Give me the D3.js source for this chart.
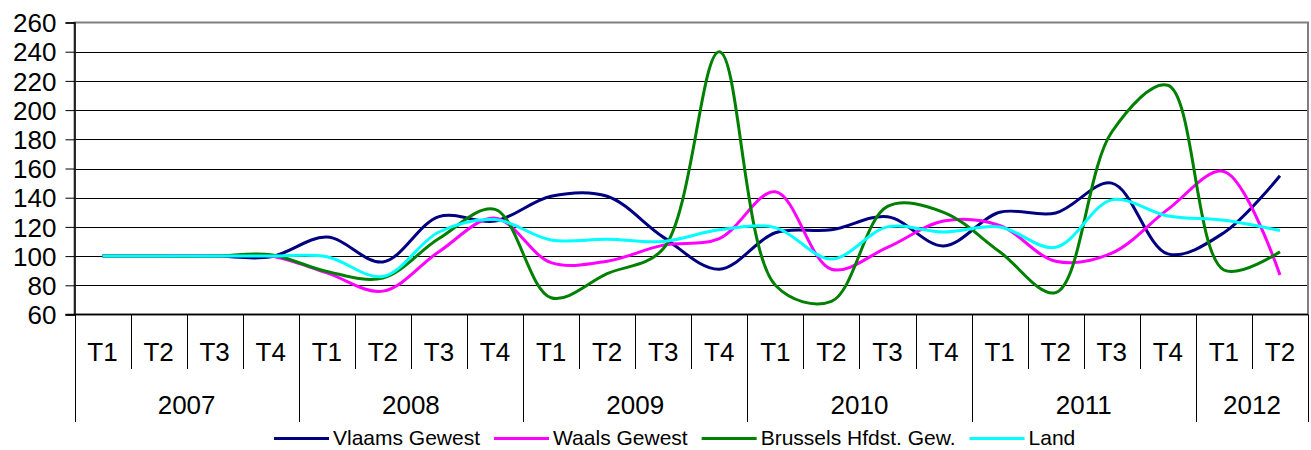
<!DOCTYPE html>
<html>
<head>
<meta charset="utf-8">
<script src="https://cdn.jsdelivr.net/npm/d3@7"></script>
<style>
	body { margin: 0; background: #fff; }
	svg text { font-family: "Liberation Sans", Arial, sans-serif; fill: #000; }
</style>
</head>
<body>
<svg id="chart" width="1311" height="450"></svg>
<script>
const years = ["2007", "2008", "2009", "2010", "2011", "2012"];
const quarters = ["T1", "T2", "T3", "T4"];
const quartersPerYear = [4, 4, 4, 4, 4, 2];

const yTicks = [60, 80, 100, 120, 140, 160, 180, 200, 220, 240, 260];

const seriesNames = ["Vlaams Gewest", "Waals Gewest", "Brussels Hfdst. Gew.", "Land"];
const seriesColors = ["#000080", "#ff00ff", "#008000", "#00ffff"];

// index values per quarter, 2007 T1 .. 2012 T2
const vlaams   = [100, 100, 100, 99.5, 113, 96, 127, 124, 141, 141, 113, 91, 116, 118, 127, 107, 130, 129.5, 150, 101.5, 116, 155];
const waals    = [100, 100, 100, 100, 88.5, 76, 103, 126, 95.5, 96.5, 107.5, 112, 144, 91, 106, 124, 121, 96.5, 102, 132, 158, 87];
const brussels = [100, 100, 100, 101, 89.5, 85, 112, 132, 71.5, 88, 105, 240, 80, 69, 134, 130, 103, 75, 185, 217, 90.5, 103];
const land     = [100, 100, 100, 100, 99.6, 86, 116.5, 125, 111, 111.5, 110, 118, 119.5, 98, 120, 116.5, 120, 106, 138.5, 127.5, 124.5, 117.5];

const seriesValues = [vlaams, waals, brussels, land];

// flat list of categories
const categories = [];
years.forEach((y, yi) => {
	for (let q = 0; q < quartersPerYear[yi]; q++) categories.push({ year: y, quarter: quarters[q] });
});

const svg = d3.select("#chart");

const plotLeft = 74.5, plotRight = 1308, plotTop = 22.5, plotBottom = 314.5;

const x = d3.scaleBand()
	.domain(d3.range(categories.length))
	.range([plotLeft, plotRight])
	.padding(0);

const y = d3.scaleLinear()
	.domain([60, 260])
	.range([plotBottom, plotTop]);

// gridlines
svg.append("g")
	.attr("class", "grid")
	.selectAll("line")
	.data(yTicks.filter(t => t > 60 && t < 260))
	.enter()
	.append("line")
	.attr("x1", plotLeft)
	.attr("x2", plotRight)
	.attr("y1", d => Math.round(y(d)) + 0.5)
	.attr("y2", d => Math.round(y(d)) + 0.5)
	.attr("stroke", "#000")
	.attr("stroke-width", 1);

// plot border
svg.append("rect")
	.attr("x", plotLeft)
	.attr("y", plotTop)
	.attr("width", plotRight - plotLeft)
	.attr("height", plotBottom - plotTop)
	.attr("fill", "none")
	.attr("stroke", "#808080")
	.attr("stroke-width", 2);

// y axis
const yAxis = svg.append("g")
	.attr("transform", "translate(" + plotLeft + ",0)")
	.call(d3.axisLeft(y).tickValues(yTicks).tickSize(9).tickPadding(9));

yAxis.select(".domain").attr("stroke", "#000").attr("stroke-width", 1.5);
yAxis.selectAll(".tick line").attr("stroke", "#000");
yAxis.selectAll(".tick text")
	.attr("font-size", 26)
	.attr("font-family", "Liberation Sans, Arial, sans-serif")
	.attr("dy", "0.35em");

// x axis line
svg.append("line")
	.attr("x1", plotLeft - 9)
	.attr("x2", plotRight)
	.attr("y1", plotBottom)
	.attr("y2", plotBottom)
	.attr("stroke", "#000")
	.attr("stroke-width", 1.5);

// quarter separators and labels
const xAxis = svg.append("g").attr("class", "x-axis");

const isYearStart = categories.map((c, i) => i === 0 || categories[i - 1].year !== c.year);

xAxis.selectAll("line.sep")
	.data(d3.range(categories.length + 1))
	.enter()
	.append("line")
	.attr("class", "sep")
	.attr("x1", i => Math.round(i < categories.length ? x(i) : plotRight) + 0.5)
	.attr("x2", i => Math.round(i < categories.length ? x(i) : plotRight) + 0.5)
	.attr("y1", plotBottom)
	.attr("y2", i => (i === categories.length || isYearStart[i]) ? 422 : 369)
	.attr("stroke", "#000")
	.attr("stroke-width", 1);

xAxis.selectAll("text.q")
	.data(categories)
	.enter()
	.append("text")
	.attr("class", "q")
	.attr("x", (d, i) => x(i) + x.bandwidth() / 2)
	.attr("y", 361)
	.attr("text-anchor", "middle")
	.attr("font-size", 26)
	.text(d => d.quarter);

// year labels
let start = 0;
const yearSpans = years.map((yr, yi) => {
	const span = { year: yr, from: start, to: start + quartersPerYear[yi] };
	start += quartersPerYear[yi];
	return span;
});

xAxis.selectAll("text.yr")
	.data(yearSpans)
	.enter()
	.append("text")
	.attr("class", "yr")
	.attr("x", d => (x(d.from) + (d.to < categories.length ? x(d.to) : plotRight)) / 2)
	.attr("y", 414)
	.attr("text-anchor", "middle")
	.attr("font-size", 26)
	.text(d => d.year);

// series lines
const line = d3.line()
	.x((d, i) => x(i) + x.bandwidth() / 2)
	.y(d => y(d))
	.curve(d3.curveCatmullRom.alpha(0.5));

svg.append("g")
	.attr("class", "series")
	.selectAll("path")
	.data(seriesValues)
	.enter()
	.append("path")
	.attr("d", d => line(d))
	.attr("fill", "none")
	.attr("stroke", (d, i) => seriesColors[i])
	.attr("stroke-width", 3)
	.attr("stroke-linejoin", "round");

// legend (kept just inside the bottom edge)
const legend = svg.append("g").attr("class", "legend");
let lx = 274;
const ly = 438.5;
seriesNames.forEach((name, i) => {
	legend.append("line")
		.attr("x1", lx)
		.attr("x2", lx + 55)
		.attr("y1", ly)
		.attr("y2", ly)
		.attr("stroke", seriesColors[i])
		.attr("stroke-width", 3);
	const t = legend.append("text")
		.attr("x", lx + 59)
		.attr("y", ly + 6.5)
		.attr("font-size", 21)
		.text(name);
	lx = lx + 59 + t.node().getComputedTextLength() + 14;
});
</script>
</body>
</html>
